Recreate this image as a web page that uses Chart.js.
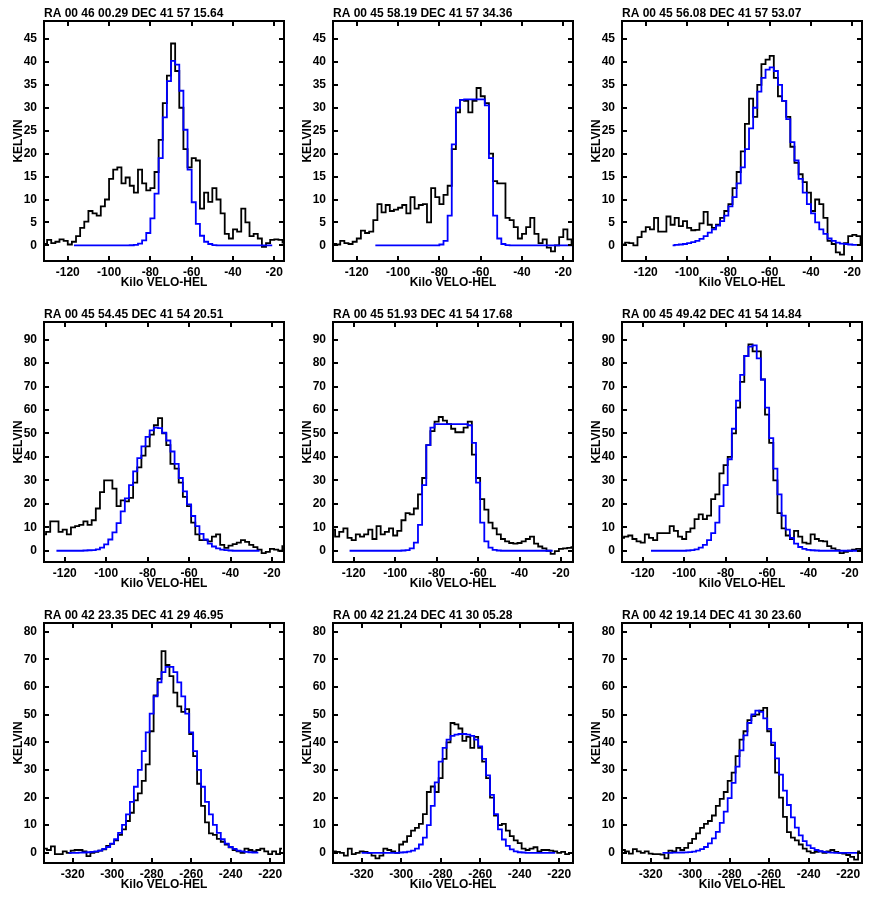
<!DOCTYPE html>
<html><head><meta charset="utf-8">
<script src="https://cdn.jsdelivr.net/npm/chart.js@4.4.1/dist/chart.umd.min.js"></script>
<style>
html,body{margin:0;padding:0;background:#fff;}
body{width:872px;height:921px;position:relative;overflow:hidden;}
canvas{position:absolute;}
</style></head>
<body>
<canvas id="c1" width="289" height="298" style="left:0px;top:0px"></canvas>
<canvas id="c2" width="289" height="298" style="left:289px;top:0px"></canvas>
<canvas id="c3" width="289" height="298" style="left:578px;top:0px"></canvas>
<canvas id="c4" width="289" height="298" style="left:0px;top:301px"></canvas>
<canvas id="c5" width="289" height="298" style="left:289px;top:301px"></canvas>
<canvas id="c6" width="289" height="298" style="left:578px;top:301px"></canvas>
<canvas id="c7" width="289" height="298" style="left:0px;top:602px"></canvas>
<canvas id="c8" width="289" height="298" style="left:289px;top:602px"></canvas>
<canvas id="c9" width="289" height="298" style="left:578px;top:602px"></canvas>
<script>
// ---------- tick labels ----------
const xTicksRow1 = [-120,-100,-80,-60,-40,-20];
const xTicksRow2 = [-120,-100,-80,-60,-40,-20];
const xTicksRow3 = [-320,-300,-280,-260,-240,-220];
const yTicksRow1 = [0,5,10,15,20,25,30,35,40,45];
const yTicksRow2 = [0,10,20,30,40,50,60,70,80,90];
const yTicksRow3 = [0,10,20,30,40,50,60,70,80];

// ---------- panel titles ----------
const titles = [
  "RA 00 46 00.29 DEC 41 57 15.64",
  "RA 00 45 58.19 DEC 41 57 34.36",
  "RA 00 45 56.08 DEC 41 57 53.07",
  "RA 00 45 54.45 DEC 41 54 20.51",
  "RA 00 45 51.93 DEC 41 54 17.68",
  "RA 00 45 49.42 DEC 41 54 14.84",
  "RA 00 42 23.35 DEC 41 29 46.95",
  "RA 00 42 21.24 DEC 41 30 05.28",
  "RA 00 42 19.14 DEC 41 30 23.60"
];

// ---------- velocity channels (km/s) ----------
const velRow1 = [-131,-129,-127,-125,-123,-121,-119,-117,-115,-113,-111,-109,-107,-105,-103,-101,-99,-97,-95,-93,-91,-89,-87,-85,-83,-81,-79,-77,-75,-73,-71,-69,-67,-65,-63,-61,-59,-57,-55,-53,-51,-49,-47,-45,-43,-41,-39,-37,-35,-33,-31,-29,-27,-25,-23,-21,-19,-17,-15];
const velRow2 = [-130,-128,-126,-124,-122,-120,-118,-116,-114,-112,-110,-108,-106,-104,-102,-100,-98,-96,-94,-92,-90,-88,-86,-84,-82,-80,-78,-76,-74,-72,-70,-68,-66,-64,-62,-60,-58,-56,-54,-52,-50,-48,-46,-44,-42,-40,-38,-36,-34,-32,-30,-28,-26,-24,-22,-20,-18,-16,-14];
const velRow3 = [-334,-332,-330,-328,-326,-324,-322,-320,-318,-316,-314,-312,-310,-308,-306,-304,-302,-300,-298,-296,-294,-292,-290,-288,-286,-284,-282,-280,-278,-276,-274,-272,-270,-268,-266,-264,-262,-260,-258,-256,-254,-252,-250,-248,-246,-244,-242,-240,-238,-236,-234,-232,-230,-228,-226,-224,-222,-220,-218,-216,-214];

// ---------- observed spectra (K) ----------
const obs1 = [0.3,1.2,0.5,0.8,1.3,1.0,0.2,0.8,2.0,3.8, 5.2,7.5,7.0,6.5,8.5,10.0,14.5,16.5,17.0,13.5, 14.8,13.0,11.5,16.5,13.5,12.0,12.5,16.0,23.0,31.0, 37.0,44.0,38.0,30.0,21.0,17.0,19.0,18.5,8.0,11.5, 9.5,12.5,10.0,7.0,2.5,1.5,3.5,3.0,8.0,5.0, 2.0,2.5,1.5,-0.3,0.5,1.2,1.3,1.2,0.6];
const obs2 = [0.3,0.2,1.0,0.5,0.3,0.8,1.5,3.2,2.7,3.0, 5.5,9.0,7.2,8.8,7.5,7.8,8.2,8.8,7.0,10.5, 8.0,8.8,9.0,5.0,12.5,10.5,9.0,11.0,13.0,21.0, 29.0,31.7,31.5,29.0,31.5,34.3,32.5,31.0,20.0,14.0, 13.5,13.5,6.0,5.5,4.0,1.5,2.5,4.0,6.0,2.5, 0.5,1.3,-0.5,-1.3,0.0,1.8,3.5,1.3,0.5];
const obs3 = [0.2,0.6,0.5,0.0,1.8,3.0,4.0,3.5,6.0,3.0, 3.0,6.3,4.5,6.0,4.2,5.3,3.8,3.3,3.4,4.8, 7.3,4.5,3.8,4.5,6.0,7.5,9.0,12.5,16.0,20.5, 26.5,32.0,28.0,35.0,39.5,40.5,41.3,36.5,32.5,31.5, 28.0,21.5,18.0,15.5,13.8,11.5,7.5,10.0,9.0,6.0, 1.0,0.3,-1.5,-2.0,0.5,2.0,2.3,2.0,0.3];
const obs4 = [7.0,8.0,12.5,12.5,8.0,9.0,7.0,10.0,10.5,11.0, 12.5,11.0,13.0,18.0,25.0,30.0,30.0,26.5,19.0,21.5, 21.0,22.5,29.0,35.5,40.5,44.5,49.5,53.5,56.5,50.0, 45.0,37.0,35.0,29.0,23.0,19.0,12.0,7.0,4.5,4.5, 4.0,6.0,7.0,2.5,1.2,2.2,2.8,3.5,4.5,3.8, 2.5,1.5,0.5,-1.0,-0.5,0.8,0.5,0.0,2.0];
const obs5 = [9.0,6.0,8.0,9.5,5.5,4.5,7.0,6.0,7.0,9.0, 5.0,10.5,7.0,8.0,9.5,6.5,8.5,13.0,16.0,15.5, 18.0,24.0,31.0,45.0,51.0,55.0,57.0,55.5,54.0,52.0, 50.5,50.5,52.5,55.0,41.0,31.0,22.0,17.5,12.0,9.5, 7.0,5.0,4.0,3.3,3.0,3.3,4.0,5.0,6.0,3.0, 1.8,1.0,0.0,-1.3,-0.2,0.8,1.0,1.2,1.5];
const obs6 = [5.5,6.0,6.5,5.0,4.0,3.5,7.0,5.5,4.5,7.5, 7.5,7.5,10.5,8.5,6.0,5.0,8.0,9.5,13.5,15.5, 13.5,15.0,22.0,24.0,33.0,36.5,40.0,50.0,61.0,72.0, 83.0,88.0,85.0,85.0,73.0,58.0,46.0,30.0,16.0,9.5, 6.5,5.0,8.5,6.0,3.5,3.0,7.0,5.0,4.2,4.0, 2.0,1.0,0.3,-1.0,-0.5,0.0,0.5,0.8,0.3];
const obs7 = [1.5,1.0,2.3,-0.5,-0.5,0.5,0.0,0.8,1.0,1.0, 0.5,-1.2,0.0,0.3,0.8,1.2,2.5,3.2,4.5,6.5, 8.5,11.5,14.5,19.0,21.5,26.0,32.0,44.0,57.0,63.0, 73.0,68.0,64.0,58.0,53.0,51.0,52.0,43.0,35.0,25.0, 17.0,11.0,7.0,6.5,5.0,4.0,3.0,2.0,1.0,0.5, 0.0,1.5,1.0,0.5,1.0,1.5,0.5,-0.5,0.5,-0.5, 1.5];
const obs8 = [0.5,0.3,0.0,-1.0,1.5,-0.5,0.0,0.5,0.3,0.0, -1.0,-2.0,-1.0,1.5,1.0,0.5,0.0,3.0,4.0,6.0, 8.0,9.0,10.5,14.0,22.0,24.0,22.0,27.0,34.0,40.0, 47.0,46.5,45.0,40.5,42.0,38.0,42.0,38.0,33.0,27.0, 20.0,13.5,10.0,10.5,8.0,6.0,4.5,3.5,1.5,1.0, 1.5,2.0,0.5,1.0,1.0,0.8,0.5,0.0,0.3,-0.5, 0.0];
const obs9 = [1.0,0.5,-0.3,1.3,0.5,0.0,0.5,-0.3,-0.5,-0.5, -0.7,-2.0,0.8,0.5,1.8,1.0,1.8,3.5,5.0,7.0, 9.0,10.5,11.5,13.5,17.0,19.5,22.0,26.0,29.0,35.0, 41.0,44.0,48.0,49.5,50.0,51.5,52.5,44.0,39.0,29.0, 20.0,13.0,7.5,5.5,4.5,3.0,1.5,0.5,0.0,0.3, 0.5,0.0,0.5,1.0,0.3,0.0,-0.3,-0.8,-1.5,-2.5, 0.5];

// ---------- fitted profiles (K), null where the fit is not drawn ----------
const fit1 = [null,null,null,null,null,null,null, 0,0,0,0,0,0,0,0,0,0,0,0,0,0, 0.03,0.1,0.4,1.1,2.7,5.9,11.3,19.0,27.9,35.8,40.2,39.4,33.7,25.2,16.5,9.4,4.7,2.1,0.8,0.3,0.07,0.02, 0,0,0,0,0,0,0,0,0,0,0,0,0, null,null,null];
const fit2 = [null,null,null,null,null,null,null,null,null,null, 0,0,0,0,0,0,0,0,0,0,0,0,0,0,0,0, 0.2,1.0,6.5,22.0,30.0,31.7,31.8,31.8,31.8,31.8,31.8,30.5,19.0,6.5,1.5,0.3,0.05, 0,0,0,0,0,0,0,0,0,0,0,0,0,0,0,0];
const fit3 = [null,null,null,null,null,null,null,null,null,null,null,null, 0.0,0.1,0.2,0.3,0.5,0.7,1.0,1.4,2.0,2.8, 3.5,4.3,5.3,6.5,8.5,10.5,13.5,17.0,21.0,25.5, 30.0,33.5,36.5,38.3,38.8,38.0,35.0,31.5,27.5,22.5, 18.5,14.5,11.5,9.0,7.0,5.0,3.5,2.5,1.5,1.0, 0.6,0.4,0.3,0.2,0.1,0.1,0.1];
const fit4 = [null,null,null, 0,0,0,0,0,0,0, 0.1,0.2,0.3,0.6,1.3,2.7,4.8,7.8,11.8,16.8, 22.3,28.0,33.8,39.5,44.5,48.5,51.3,52.5,52.3,50.3, 47.0,42.3,37.0,31.0,25.3,19.8,14.8,10.5,7.2,4.8, 3.0,1.8,1.0,0.5,0.3,0.1, 0,0,0,0,0,0,0, null,null,null,null,null,null];
const fit5 = [null,null,null,null, 0,0,0,0,0,0,0,0,0,0,0,0,0, 0.1,0.3,1.0,3.5,11.0,28.0,45.0,52.5,54.0,54.0, 54.0,54.0,54.0,54.0,54.0,54.0,53.5,46.0,29.0,12.0, 4.0,1.3,0.4,0.1, 0,0,0,0,0,0,0,0,0,0,0,0,0, null,null,null,null,null];
const fit6 = [null,null,null,null,null,null,null, 0,0,0,0,0,0,0,0,0, 0.1,0.3,0.6,1.3,2.5,4.5,7.5,12.0,19.0,28.0, 39.0,52.0,64.0,75.0,83.0,87.0,87.5,82.0,73.0,61.0, 48.0,35.0,24.0,15.0,9.0,5.5,3.0,1.6,0.8,0.4, 0.2,0.1, 0,0,0,0,0,0,0,0,0,0,0];
const fit7 = [null,null,null,null,null,null, 0,0,0,0.05,0.1,0.2,0.3,0.5,0.8,1.4, 2.1,3.3,4.9,7.2,10.1,13.9,18.4,23.9,30.0,36.8, 43.6,50.4,56.6,61.7,65.4,67.3,67.3,65.4,61.7,56.6, 50.4,43.6,36.8,30.0,23.9,18.4,13.9,10.1,7.2,4.9, 3.3,2.1,1.4,0.8,0.5,0.3,0.2,0.1,0.05, null,null,null,null,null,null];
const fit8 = [null,null,null,null,null,null,null, 0,0,0,0,0,0,0,0,0,0, 0.1,0.2,0.4,0.8,1.5,3.0,5.5,10.0,17.0,25.5, 33.0,38.0,41.0,42.3,42.8,43.0,43.0,42.8,42.3,41.0, 38.5,34.0,28.0,21.0,14.0,8.5,4.8,2.5,1.2,0.5, 0.2,0.1, 0,0,0,0,0,0,0,0, null,null,null,null];
const fit9 = [null,null,null,null,null,null,null,null,null,null, 0,0,0,0.05,0.05,0.1,0.15,0.23,0.42,0.75, 1.3,2.1,3.4,5.2,7.6,10.8,14.9,19.8,25.3,31.2, 37.1,42.5,47.0,50.1,51.5,51.0,48.7,44.9,39.9,34.2, 28.3,22.5,17.3,12.8,9.1,6.3,4.2,2.7,1.7,1.0, 0.56,0.3,0.15,0.05,0,0,0,0,0,0,0];

// ---------- build charts ----------
const FONT = "'Liberation Sans', Arial, Helvetica, sans-serif";
const bold12 = {family: FONT, size: 12, weight: 'bold'};

const frame = {
  id: 'frame',
  afterDraw(chart) {
    const {ctx, chartArea: a, scales: {x, y}} = chart;
    ctx.save();
    ctx.strokeStyle = '#000';
    ctx.lineWidth = 2;
    ctx.strokeRect(a.left, a.top, a.right - a.left, a.bottom - a.top);
    ctx.beginPath();
    const L = 5;
    x.ticks.forEach(t => {
      const px = Math.round(x.getPixelForValue(t.value));
      ctx.moveTo(px, a.bottom); ctx.lineTo(px, a.bottom - L);
      ctx.moveTo(px, a.top); ctx.lineTo(px, a.top + L);
    });
    y.ticks.forEach(t => {
      const py = Math.round(y.getPixelForValue(t.value));
      ctx.moveTo(a.left, py); ctx.lineTo(a.left + L, py);
      ctx.moveTo(a.right, py); ctx.lineTo(a.right - L, py);
    });
    ctx.stroke();
    ctx.restore();
  }
};

function pts(vel, vals) { return vel.map((v, i) => ({x: v, y: vals[i]})); }

const rows = [
  {vel: velRow1, xt: xTicksRow1, yt: yTicksRow1, xmin: -131.5, xmax: -15.3, ymin: -3.4, ymax: 48.9},
  {vel: velRow2, xt: xTicksRow2, yt: yTicksRow2, xmin: -130.0, xmax: -14.2, ymin: -4.8, ymax: 97.5},
  {vel: velRow3, xt: xTicksRow3, yt: yTicksRow3, xmin: -334.5, xmax: -213.0, ymin: -3.7, ymax: 83.2}
];
const obsAll = [obs1, obs2, obs3, obs4, obs5, obs6, obs7, obs8, obs9];
const fitAll = [fit1, fit2, fit3, fit4, fit5, fit6, fit7, fit8, fit9];

for (let k = 0; k < 9; k++) {
  const r = rows[Math.floor(k / 3)];
  new Chart(document.getElementById('c' + (k + 1)), {
    type: 'line',
    data: {
      datasets: [
        {label: 'fit', data: pts(r.vel, fitAll[k]), borderColor: '#0000ff', borderWidth: 1.8,
         stepped: 'middle', pointRadius: 0, spanGaps: false, order: 0, fill: false},
        {label: 'observed', data: pts(r.vel, obsAll[k]), borderColor: '#000000', borderWidth: 1.8,
         stepped: 'middle', pointRadius: 0, spanGaps: false, order: 1, fill: false}
      ]
    },
    options: {
      responsive: false, animation: false, devicePixelRatio: 1,
      layout: {padding: {left: 0, right: 5, top: 0, bottom: 0}},
      plugins: {
        legend: {display: false}, tooltip: {enabled: false},
        title: {display: true, text: titles[k], align: 'start', fullSize: false, color: '#000',
                font: bold12, padding: {top: 6.3, bottom: 0.3}}
      },
      scales: {
        x: {
          type: 'linear', min: r.xmin, max: r.xmax,
          grid: {display: false, drawTicks: false}, border: {display: false},
          afterBuildTicks: s => { s.ticks = r.xt.map(v => ({value: v})); },
          afterFit: s => { s.height = 37; },
          ticks: {color: '#000', font: bold12, padding: 4, autoSkip: false, maxRotation: 0, minRotation: 0},
          title: {display: true, text: 'Kilo VELO-HEL', color: '#000', font: bold12, padding: {top: 0, bottom: 7.8}}
        },
        y: {
          type: 'linear', min: r.ymin, max: r.ymax,
          grid: {display: false, drawTicks: false}, border: {display: false},
          afterBuildTicks: s => { s.ticks = r.yt.map(v => ({value: v})); },
          afterFit: s => { s.width = 44; },
          ticks: {color: '#000', font: bold12, padding: 7, autoSkip: false},
          title: {display: true, text: 'KELVIN', color: '#000', font: bold12, padding: {top: 11, bottom: 0}}
        }
      }
    },
    plugins: [frame]
  });
}
</script>
</body></html>
